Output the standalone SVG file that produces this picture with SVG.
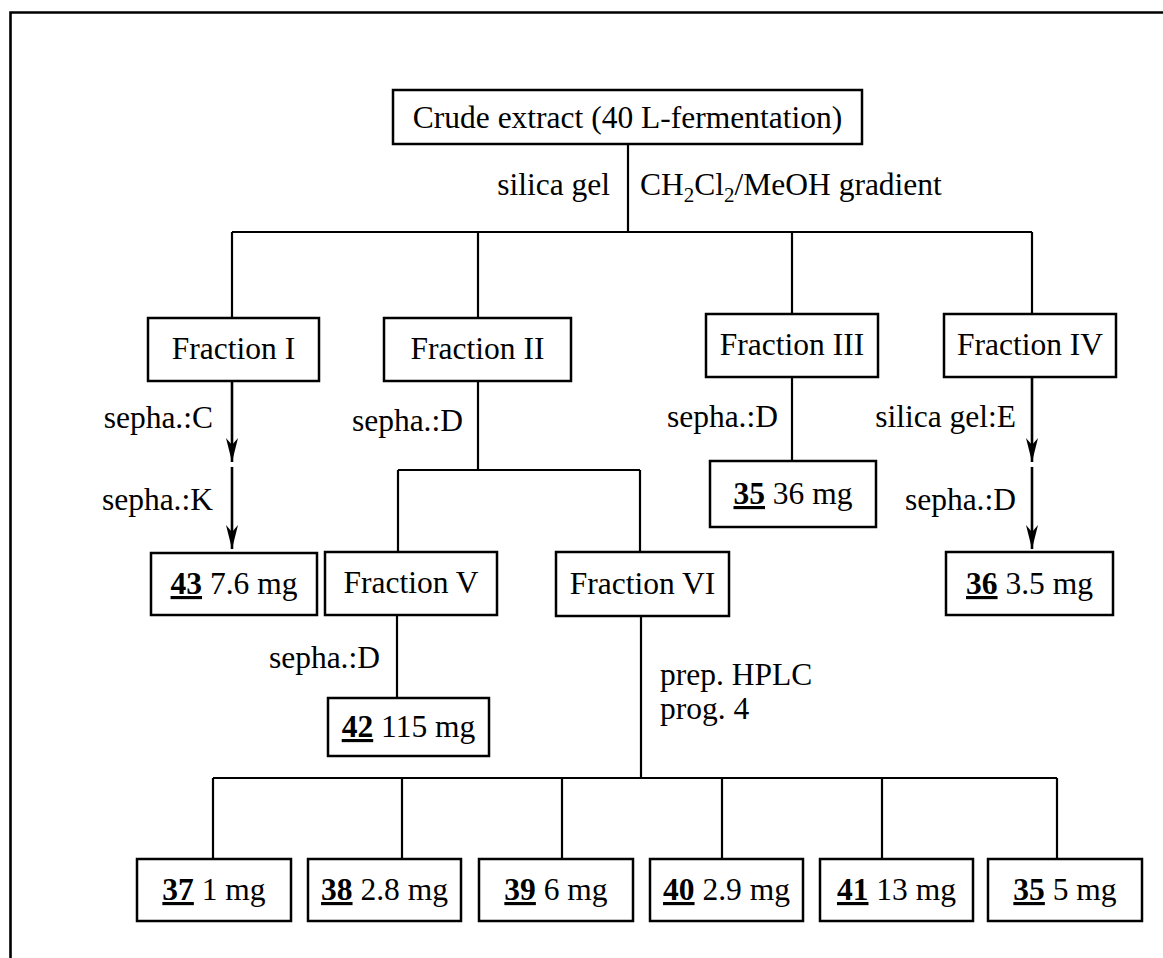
<svg xmlns="http://www.w3.org/2000/svg" width="1163" height="958" viewBox="0 0 1163 958">
  <style>
    text { font-family: "Liberation Serif", "Times New Roman", serif; font-size: 31.5px; fill: #000; }
    .c { text-anchor: middle; }
    .r { text-anchor: end; }
    .num { font-weight: bold; text-decoration: underline; text-decoration-thickness: 3.5px; text-underline-offset: 3px; }
    .box { fill: #fff; stroke: #000; stroke-width: 2.5; }
    .ln { fill: none; stroke: #000; stroke-width: 2.2; }
    .arr { fill: none; stroke: #000; stroke-width: 2.6; }
  </style>
  <defs>
    <marker id="head" viewBox="0 0 24 12" refX="24" refY="6" markerWidth="24" markerHeight="12" markerUnits="userSpaceOnUse" orient="auto">
      <path d="M24,6 L0,0 L7,6 L0,12 Z" fill="#000"/>
    </marker>
  </defs>

  <rect width="1163" height="958" fill="#fff"/>
  <!-- frame -->
  <path d="M10.5,958 V12.5 H1163" fill="none" stroke="#000" stroke-width="2.6"/>

  <!-- connectors -->
  <g id="connectors">
    <path class="ln" d="M628,144 V232 M232,232 H1032 M232,232 V318 M478,232 V318 M792,232 V314 M1032,232 V314"/>
    <path class="arr" d="M232,381 V462" marker-end="url(#head)"/>
    <path class="arr" d="M232,467 V549" marker-end="url(#head)"/>
    <path class="arr" d="M1032,377 V462" marker-end="url(#head)"/>
    <path class="arr" d="M1032,467 V549" marker-end="url(#head)"/>
    <path class="ln" d="M478,381 V470 M398,470 H640 M398,470 V552 M640,470 V552"/>
    <path class="ln" d="M792,377 V461"/>
    <path class="ln" d="M397,615 V698"/>
    <path class="ln" d="M641,616 V778 M213,778 H1057 M213,778 V859 M402,778 V859 M562,778 V859 M722,778 V859 M882,778 V859 M1057,778 V859"/>
  </g>

  <!-- edge labels -->
  <g id="labels">
    <text class="r" x="610" y="195">silica gel</text>
    <text x="640" y="195">CH<tspan dy="7" font-size="21">2</tspan><tspan dy="-7">Cl</tspan><tspan dy="7" font-size="21">2</tspan><tspan dy="-7">/MeOH gradient</tspan></text>
    <text class="r" x="213" y="428">sepha.:C</text>
    <text class="r" x="213" y="510">sepha.:K</text>
    <text class="r" x="463" y="431">sepha.:D</text>
    <text class="r" x="778" y="427">sepha.:D</text>
    <text class="r" x="1016" y="427">silica gel:E</text>
    <text class="r" x="1016" y="510">sepha.:D</text>
    <text class="r" x="380" y="668">sepha.:D</text>
    <text x="660" y="685">prep. HPLC</text>
    <text x="660" y="719">prog. 4</text>
  </g>

  <!-- nodes -->
  <g id="crude">
    <rect class="box" x="393" y="90" width="469" height="54"/>
    <text class="c" x="627.5" y="128">Crude extract (40 L-fermentation)</text>
  </g>
  <g id="fraction-1">
    <rect class="box" x="148" y="318" width="171" height="63"/>
    <text class="c" x="233.5" y="359">Fraction I</text>
  </g>
  <g id="fraction-2">
    <rect class="box" x="384" y="318" width="187" height="63"/>
    <text class="c" x="477.5" y="359">Fraction II</text>
  </g>
  <g id="fraction-3">
    <rect class="box" x="706" y="314" width="172" height="63"/>
    <text class="c" x="792" y="355">Fraction III</text>
  </g>
  <g id="fraction-4">
    <rect class="box" x="944" y="314" width="172" height="63"/>
    <text class="c" x="1030" y="355">Fraction IV</text>
  </g>
  <g id="cpd-43">
    <rect class="box" x="151" y="553" width="166" height="62"/>
    <text class="c" x="234" y="594"><tspan class="num">43</tspan> 7.6 mg</text>
  </g>
  <g id="fraction-5">
    <rect class="box" x="325" y="552" width="172" height="63"/>
    <text class="c" x="411" y="593">Fraction V</text>
  </g>
  <g id="fraction-6">
    <rect class="box" x="556" y="552" width="173" height="64"/>
    <text class="c" x="642.5" y="594">Fraction VI</text>
  </g>
  <g id="cpd-35a">
    <rect class="box" x="710" y="461" width="166" height="66"/>
    <text class="c" x="793" y="504"><tspan class="num">35</tspan> 36 mg</text>
  </g>
  <g id="cpd-36">
    <rect class="box" x="946" y="552" width="167" height="63"/>
    <text class="c" x="1029.5" y="594"><tspan class="num">36</tspan> 3.5 mg</text>
  </g>
  <g id="cpd-42">
    <rect class="box" x="328" y="698" width="161" height="58"/>
    <text class="c" x="408.5" y="737"><tspan class="num">42</tspan> 115 mg</text>
  </g>
  <g id="cpd-37">
    <rect class="box" x="137" y="859" width="154" height="62"/>
    <text class="c" x="214" y="900"><tspan class="num">37</tspan> 1 mg</text>
  </g>
  <g id="cpd-38">
    <rect class="box" x="308" y="859" width="153" height="62"/>
    <text class="c" x="384.5" y="900"><tspan class="num">38</tspan> 2.8 mg</text>
  </g>
  <g id="cpd-39">
    <rect class="box" x="479" y="859" width="154" height="62"/>
    <text class="c" x="556" y="900"><tspan class="num">39</tspan> 6 mg</text>
  </g>
  <g id="cpd-40">
    <rect class="box" x="650" y="859" width="153" height="62"/>
    <text class="c" x="726.5" y="900"><tspan class="num">40</tspan> 2.9 mg</text>
  </g>
  <g id="cpd-41">
    <rect class="box" x="820" y="859" width="153" height="62"/>
    <text class="c" x="896.5" y="900"><tspan class="num">41</tspan> 13 mg</text>
  </g>
  <g id="cpd-35b">
    <rect class="box" x="988" y="859" width="154" height="62"/>
    <text class="c" x="1065" y="900"><tspan class="num">35</tspan> 5 mg</text>
  </g>
</svg>
